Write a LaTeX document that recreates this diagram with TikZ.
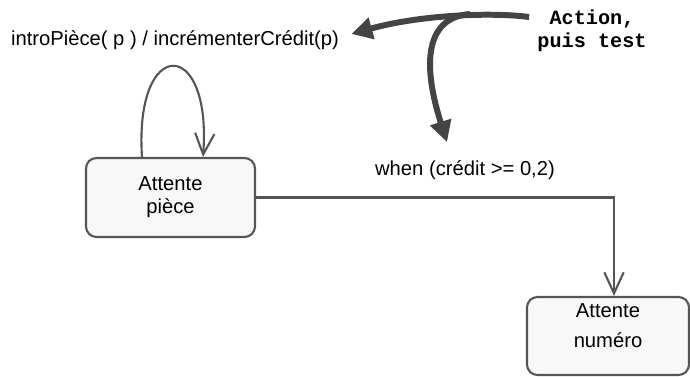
\documentclass[tikz,border=0pt]{standalone}
\usepackage{fontspec}
\setmainfont{Liberation Sans}
\newfontfamily\monofont{Liberation Mono}
\definecolor{stategray}{HTML}{555555}
\definecolor{statefill}{HTML}{F8F8F8}
\definecolor{notegray}{HTML}{444444}
\usetikzlibrary{arrows.meta,positioning,calc}

\begin{document}
\begin{tikzpicture}[x=0.02cm,y=-0.02cm,
  sbox/.style={draw=stategray,line width=1.2pt,fill=statefill,rounded corners=6pt,
    minimum width=169*0.02cm,minimum height=79*0.02cm,align=center,
    font=\fontsize{11.5}{13}\selectfont},
  trans/.style={-{Straight Barb[length=12pt,width=11pt,line width=1.2pt]},line width=1.2pt,stategray},
  note/.style={-{Triangle[length=12pt,width=12pt]},line width=3.4pt,notegray},
  lbl/.style={font=\fontsize{11.5}{14}\selectfont,inner sep=0pt}
]
  \useasboundingbox (0,0) rectangle (690,377);
  % states
  \node[sbox] (piece) at (170.5,197.5) {Attente\\pièce};
  \node[sbox,minimum width=162*0.02cm,minimum height=78*0.02cm,text depth=12pt,
    font=\fontsize{11.5}{17}\selectfont] (numero) at (608,336) {Attente\\numéro};
  % labels
  \node[lbl] (intro) at (175,40) {introPièce( p ) / incrémenterCrédit(p)};
  \node[lbl] (when) at (465,170) {when (crédit >= 0,2)};
  \node[font=\monofont\bfseries\fontsize{11.5}{13}\selectfont,align=center,inner sep=0pt] (act) at (592,31) {Action,\\puis test};
  % transitions
  \draw[trans] ($(piece.north)+(-28.5,0)$) .. controls (134,36) and (212,36) .. ($(piece.north)+(32.5,0)$);
  \draw[trans] (piece.east) -| ($(numero.north)+(6,0)$);
  % annotation arrows
  \coordinate (split) at (470,14);
  \draw[note] ($(act.west)+(-8,-14)$) .. controls (490,12) and (420,15) .. ($(intro.east)+(12,-6)$);
  \draw[note] (split) .. controls (422,18) and (424,70) .. ($(when.north)+(-18,-18)$);
\end{tikzpicture}
\end{document}
